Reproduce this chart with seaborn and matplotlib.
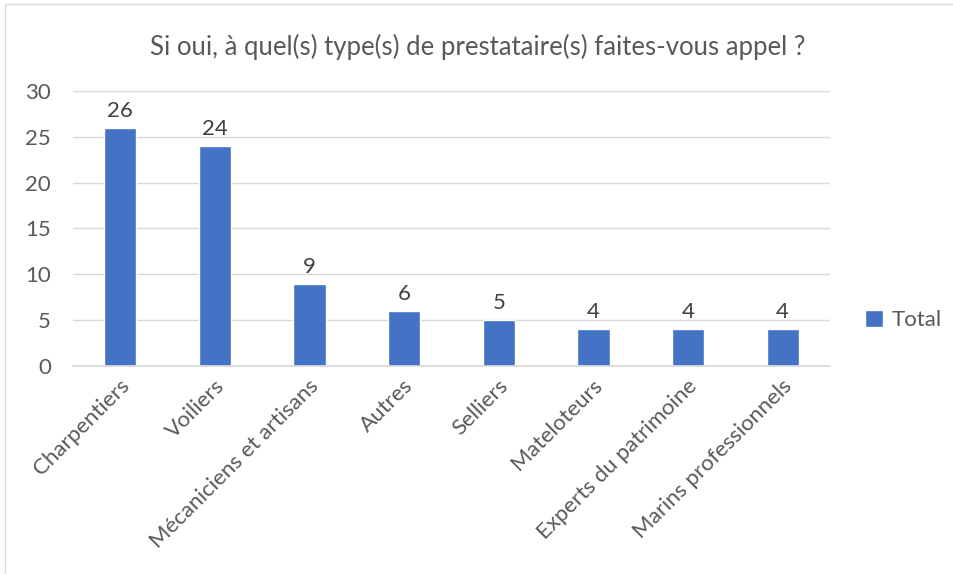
import matplotlib
matplotlib.use("Agg")
import matplotlib.pyplot as plt
import matplotlib.transforms as mtransforms
from matplotlib.patches import Rectangle
import seaborn as sns
import pandas as pd

categories = ["Charpentiers", "Voiliers", "Mécaniciens et artisans", "Autres",
              "Selliers", "Mateloteurs", "Experts du patrimoine", "Marins professionnels"]
values = [26, 24, 9, 6, 5, 4, 4, 4]
yticks = [0, 5, 10, 15, 20, 25, 30]
title = "Si oui, à quel(s) type(s) de prestataire(s) faites-vous appel ?"
series_name = "Total"

sns.set_theme(style="white")
plt.rcParams['font.family'] = ['Lato', 'DejaVu Sans']

df = pd.DataFrame({"cat": categories, "val": values, "series": series_name})

fig = plt.figure(figsize=(9.54, 5.74), dpi=100)
ax = fig.add_axes([73/954, 1-366/574, (830-73)/954, (366-91)/574])

sns.barplot(data=df, x="cat", y="val", hue="series", palette=["#4472C4"],
            width=0.34, saturation=1, ax=ax, legend=True)

ax.set_ylim(0, 30)
ax.set_xlim(-0.5, len(categories)-0.5)
ax.set_yticks(yticks)
ax.set_yticklabels([str(t) for t in yticks], fontsize=16, color="#595959")
ax.yaxis.grid(True, color="#D9D9D9", linewidth=1)
ax.set_axisbelow(True)
for s in ["top", "right", "left"]:
    ax.spines[s].set_visible(False)
ax.spines["bottom"].set_color("#D9D9D9")
ax.tick_params(axis="y", length=0, pad=16)
ax.tick_params(axis="x", length=0, pad=4)
ax.set_xlabel("")
ax.set_ylabel("")

ax.set_xticks(range(len(categories)))
ax.set_xticklabels(categories, rotation=45, ha="right", rotation_mode="anchor",
                   fontsize=16, color="#595959")
offset = mtransforms.ScaledTranslation(-1/100, -4/100, fig.dpi_scale_trans)
for lab in ax.get_xticklabels():
    lab.set_transform(lab.get_transform() + offset)

for c in ax.containers:
    ax.bar_label(c, fmt="%d", padding=5, fontsize=16, color="#404040")

leg = ax.legend(loc="center left", bbox_to_anchor=(1.02, 0.167), frameon=False,
                fontsize=16, handlelength=0.8, handleheight=0.8, handletextpad=0.4)
for t in leg.get_texts():
    t.set_color("#595959")

fig.text(478/954, 1-47/574, title, ha="center", va="center", fontsize=18.5, color="#595959")

fig.patches.append(Rectangle((5/954, -0.1), 1.2, 1-4/574+0.1, transform=fig.transFigure,
                             fill=False, edgecolor="#D9D9D9", linewidth=1))

fig.savefig("out.png", dpi=100)
